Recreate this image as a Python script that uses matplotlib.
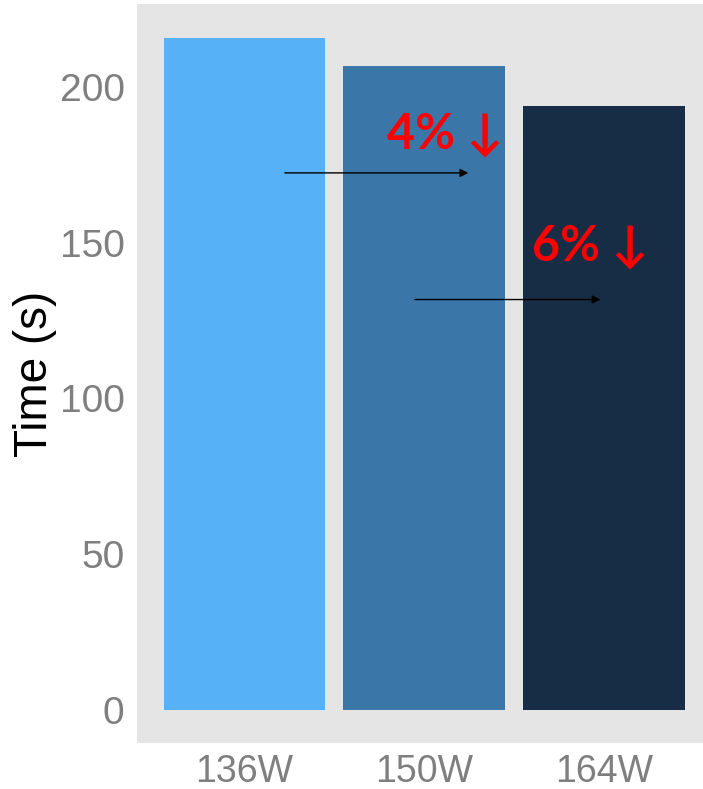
import matplotlib.pyplot as plt

# run time per power limit
powers = ["136W", "150W", "164W"]
times = [216, 207, 194]
bar_colors = ["#56B1F7", "#3A76A7", "#172C45"]

# percentage drop annotations
drop_labels = ["4% \u2193", "6% \u2193"]
drop_text_x = [1.79, 2.60]
drop_text_y = [185.0, 149.0]
arrow_x0 = [1.225, 1.947]
arrow_x1 = [2.245, 2.98]
arrow_y = [172.5, 131.8]

plt.rcParams["font.family"] = ["Liberation Sans", "DejaVu Sans"]

fig = plt.figure(figsize=(7.03, 7.89), dpi=100)
ax = fig.add_axes([0.195, 0.058, 0.805, 0.937])
ax.set_facecolor("#E5E5E5")

x = [1, 2, 3]
ax.bar(x, times, width=0.9, color=bar_colors, zorder=2)

for x0, x1, y in zip(arrow_x0, arrow_x1, arrow_y):
    ax.annotate("", xy=(x1, y), xytext=(x0, y),
                arrowprops=dict(arrowstyle="-|>", color="black", lw=1.0,
                                mutation_scale=12, shrinkA=0, shrinkB=0),
                zorder=3)

for lab, tx, ty in zip(drop_labels, drop_text_x, drop_text_y):
    ax.text(tx, ty, lab, color="#FF0000", fontsize=35, va="center", ha="left",
            family=["Lato", "DejaVu Sans"], fontweight="bold", zorder=4)

ax.set_xlim(0.403, 3.55)
ax.set_ylim(-10.8, 226.8)
ax.set_xticks(x)
ax.set_xticklabels(powers)
ax.set_yticks([0, 50, 100, 150, 200])
ax.tick_params(axis="both", length=0, labelsize=28, labelcolor="#7F7F7F")
ax.tick_params(axis="y", pad=9)
ax.tick_params(axis="x", pad=8, labelsize=27)
ax.set_ylabel("Time (s)", fontsize=33, color="black", labelpad=2)

for s in ax.spines.values():
    s.set_visible(False)

fig.savefig("out.png", dpi=100)
